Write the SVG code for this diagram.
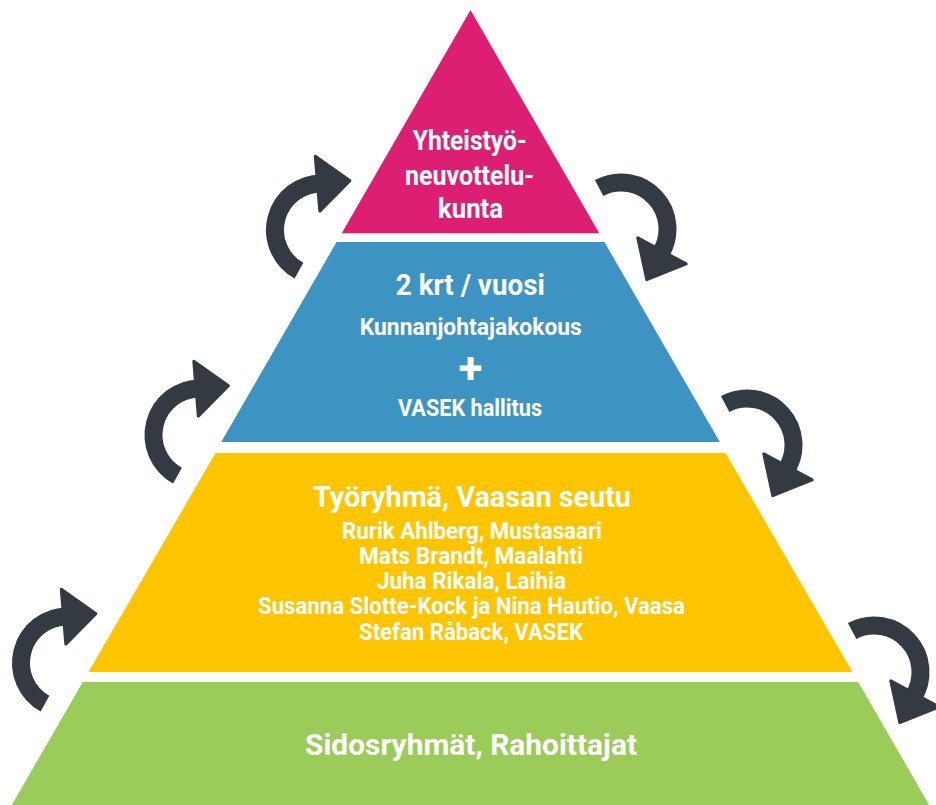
<svg xmlns="http://www.w3.org/2000/svg" xmlns:xlink="http://www.w3.org/1999/xlink" width="936" height="805" viewBox="0 0 936 805">
<style>
.t{font-family:Roboto,"Liberation Sans","DejaVu Sans",sans-serif;font-weight:700;fill:#ffffff;text-anchor:middle}
.arc{fill:none;stroke:#343a41;stroke-width:18}
.head{fill:#343a41;stroke:#343a41;stroke-width:3;stroke-linejoin:round}
</style>
<defs>
<g id="arrow">
<path class="arc" d="M -22.5 40.7 A 46.5 46.5 0 0 1 0 -46.5"/>
<polygon class="head" points="-6.2,-73.7 -1.7,-18.9 28.4,-49.2"/>
</g>
</defs>
<rect width="936" height="805" fill="#ffffff"/>
<g id="layer-top">
<polygon points="470.5,10 599.3,233.3 341.7,233.3" fill="#dd1f74"/>
<text class="t" x="469.7" y="150" font-size="28" textLength="114" lengthAdjust="spacingAndGlyphs">Yhteistyö-</text>
<text class="t" x="469.5" y="185" font-size="28" textLength="129" lengthAdjust="spacingAndGlyphs">neuvottelu-</text>
<text class="t" x="470.5" y="218" font-size="28" textLength="65" lengthAdjust="spacingAndGlyphs">kunta</text>
</g>
<g id="layer-2">
<polygon points="336.6,242 604.4,242 719.8,442 221.2,442" fill="#3d94c3"/>
<text class="t" x="470.3" y="295" font-size="30" textLength="149" lengthAdjust="spacingAndGlyphs">2 krt / vuosi</text>
<text class="t" x="470.8" y="335" font-size="23" textLength="222" lengthAdjust="spacingAndGlyphs">Kunnanjohtajakokous</text>
<text class="t" x="470.5" y="383" font-size="44">+</text>
<text class="t" x="470" y="415.5" font-size="24" textLength="144" lengthAdjust="spacingAndGlyphs">VASEK hallitus</text>
</g>
<g id="layer-3">
<polygon points="215.5,453 725.5,453 852.5,672 88.5,672" fill="#ffc500"/>
<text class="t" x="472" y="507" font-size="30" textLength="318" lengthAdjust="spacingAndGlyphs">Työryhmä, Vaasan seutu</text>
<text class="t" x="472" y="539" font-size="23" textLength="260" lengthAdjust="spacingAndGlyphs">Rurik Ahlberg, Mustasaari</text>
<text class="t" x="471" y="564" font-size="23" textLength="224" lengthAdjust="spacingAndGlyphs">Mats Brandt, Maalahti</text>
<text class="t" x="471.5" y="589" font-size="23" textLength="189" lengthAdjust="spacingAndGlyphs">Juha Rikala, Laihia</text>
<text class="t" x="471.5" y="614" font-size="23" textLength="427" lengthAdjust="spacingAndGlyphs">Susanna Slotte-Kock ja Nina Hautio, Vaasa</text>
<text class="t" x="471" y="640" font-size="23" textLength="224" lengthAdjust="spacingAndGlyphs">Stefan Råback, VASEK</text>
</g>
<g id="layer-base">
<polygon points="82.8,682 858.2,682 929.2,805 11.8,805" fill="#9bcb58"/>
<text class="t" x="471" y="755" font-size="30" textLength="332" lengthAdjust="spacingAndGlyphs">Sidosryhmät, Rahoittajat</text>
</g>
<g id="connectors">
<use xlink:href="#arrow" transform="translate(321.5,230)"/>
<use xlink:href="#arrow" transform="translate(200,435)"/>
<use xlink:href="#arrow" transform="translate(67.5,663)"/>
<use xlink:href="#arrow" transform="translate(621,229) rotate(123)"/>
<use xlink:href="#arrow" transform="translate(747,445) rotate(123)"/>
<use xlink:href="#arrow" transform="translate(874,672) rotate(123)"/>
</g>
</svg>
